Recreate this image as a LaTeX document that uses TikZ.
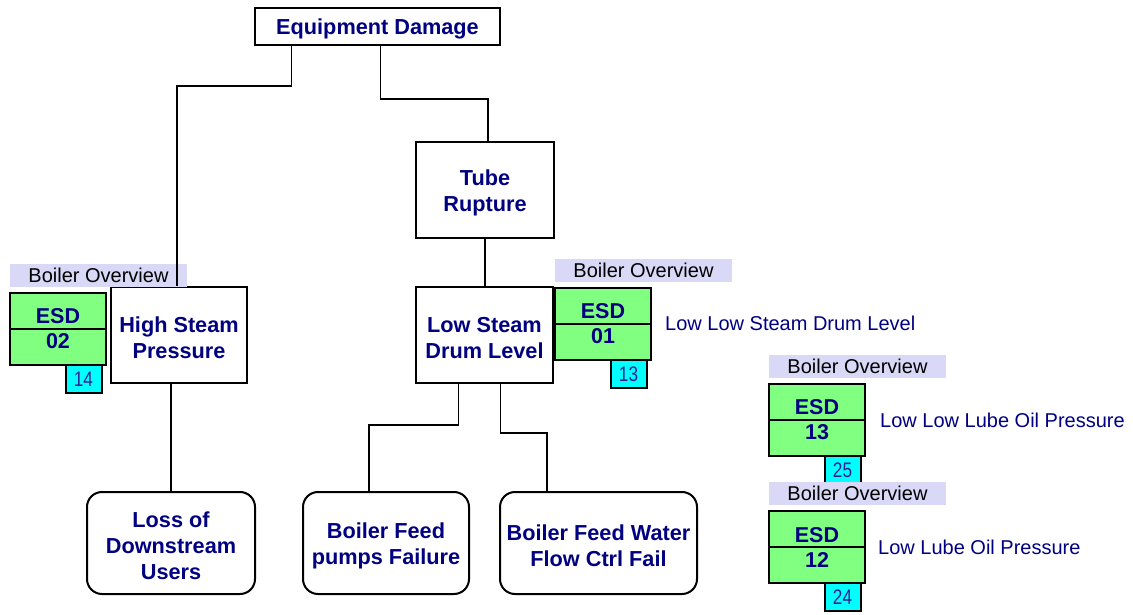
\documentclass[tikz,border=0pt]{standalone}
\usepackage{fontspec}
\setmainfont{Liberation Sans}
\definecolor{navyt}{RGB}{0,0,128}
\definecolor{esdgreen}{RGB}{128,255,128}
\definecolor{lblfill}{RGB}{217,217,247}
\definecolor{numcyan}{RGB}{0,255,255}
\definecolor{numtext}{RGB}{48,32,150}
\tikzset{
 box/.style={draw=black, line width=2pt, fill=white, inner sep=0pt},
 rbox/.style={box, rounded corners=15pt},
 boxtext/.style={inner sep=0pt, align=center, text=navyt, font=\fontsize{21.7}{26}\selectfont\bfseries},
 conn/.style={line width=1.8pt},
 lbl/.style={fill=lblfill, inner sep=0pt, minimum width=177pt, minimum height=23pt, font=\fontsize{20}{20}\selectfont, text=black},
 esdbox/.style={draw=black, line width=2pt, fill=esdgreen, inner sep=0pt, minimum width=96pt, minimum height=72pt, align=center, font=\fontsize{21.5}{25}\selectfont\bfseries, text=navyt},
 numbox/.style={draw=black, line width=2pt, fill=numcyan, inner sep=0pt, minimum width=36pt, minimum height=28pt, text depth=-1.5pt, font=\fontsize{21}{21}\selectfont, text=numtext},
 desc/.style={anchor=west, inner sep=0pt, text=navyt, font=\fontsize{20}{20}\selectfont}
}
\newcommand\esdgrp[5]{%
 \begin{scope}[shift={(#2,#3)}]
  \node[lbl] (#1lbl) at (88.5,11.5) {Boiler Overview};
  \node[esdbox] (#1box) at (48,65) {ESD\\#4};
  \draw[line width=2pt] (#1box.west) -- (#1box.east);
  \node[numbox] (#1num) at (73.5,115) {\scalebox{0.82}[1]{#5}};
 \end{scope}}
\begin{document}
\begin{tikzpicture}[x=1pt,y=-1pt]
\useasboundingbox (0,0) rectangle (1133,615);
% main boxes
\node[box, minimum width=245pt, minimum height=37pt] (ed) at (377.5,26.5) {};
\node[boxtext] (edt) at ([yshift=-2pt]ed.center) {Equipment Damage};
\node[box, minimum width=136pt, minimum height=96pt] (hsp) at (179,335) {};
\node[boxtext] (hspt) at ([yshift=-3pt]hsp.center) {High Steam\\Pressure};
\node[box, minimum width=138pt, minimum height=96pt] (tr) at (485,190) {};
\node[boxtext] (trt) at ([yshift=-3pt]tr.center) {Tube\\Rupture};
\node[box, minimum width=137pt, minimum height=96pt] (lsdl) at (484.5,335) {};
\node[boxtext] (lsdlt) at ([yshift=-3pt]lsdl.center) {Low Steam\\Drum Level};
\node[rbox, minimum width=168pt, minimum height=102pt] (ldu) at (171,543) {};
\node[boxtext] (ldut) at ([yshift=-3pt]ldu.center) {Loss of\\Downstream\\Users};
\node[rbox, minimum width=166pt, minimum height=102pt] (bfp) at (386,543) {};
\node[boxtext] (bfpt) at ([yshift=-3pt]bfp.center) {Boiler Feed\\pumps Failure};
\node[rbox, minimum width=197pt, minimum height=102pt] (bfw) at (598.5,543) {};
\node[boxtext] (bfwt) at ([yshift=-3pt]bfw.center) {Boiler Feed Water\\Flow Ctrl Fail};
% ESD groups
\esdgrp{ea}{10}{264}{02}{14}
\esdgrp{eb}{555}{259}{01}{13}
\esdgrp{ec}{769}{355}{13}{25}
\esdgrp{ee}{769}{482}{12}{24}
\node[desc] (da) at (665,323) {Low Low Steam Drum Level};
\node[desc] (dc) at (880,420) {Low Low Lube Oil Pressure};
\node[desc] (de) at (878,547) {Low Lube Oil Pressure};
% connectors
\draw[conn] ([xshift=-86pt]ed.south) -- ++(0,40) -| ([xshift=-2pt]hsp.north);
\draw[conn] ([xshift=3pt]ed.south) -- ++(0,53) -| ([xshift=3pt]tr.north);
\draw[conn] (tr.south) -- (tr.south |- lsdl.north);
\draw[conn] ([xshift=-26pt]lsdl.south) -- ++(0,41) -| ([xshift=-17pt]bfp.north);
\draw[conn] ([xshift=16pt]lsdl.south) -- ++(0,49) -| ([xshift=-51.5pt]bfw.north);
\draw[conn] (ldu.north) -- (ldu.north |- hsp.south);
\end{tikzpicture}
\end{document}
